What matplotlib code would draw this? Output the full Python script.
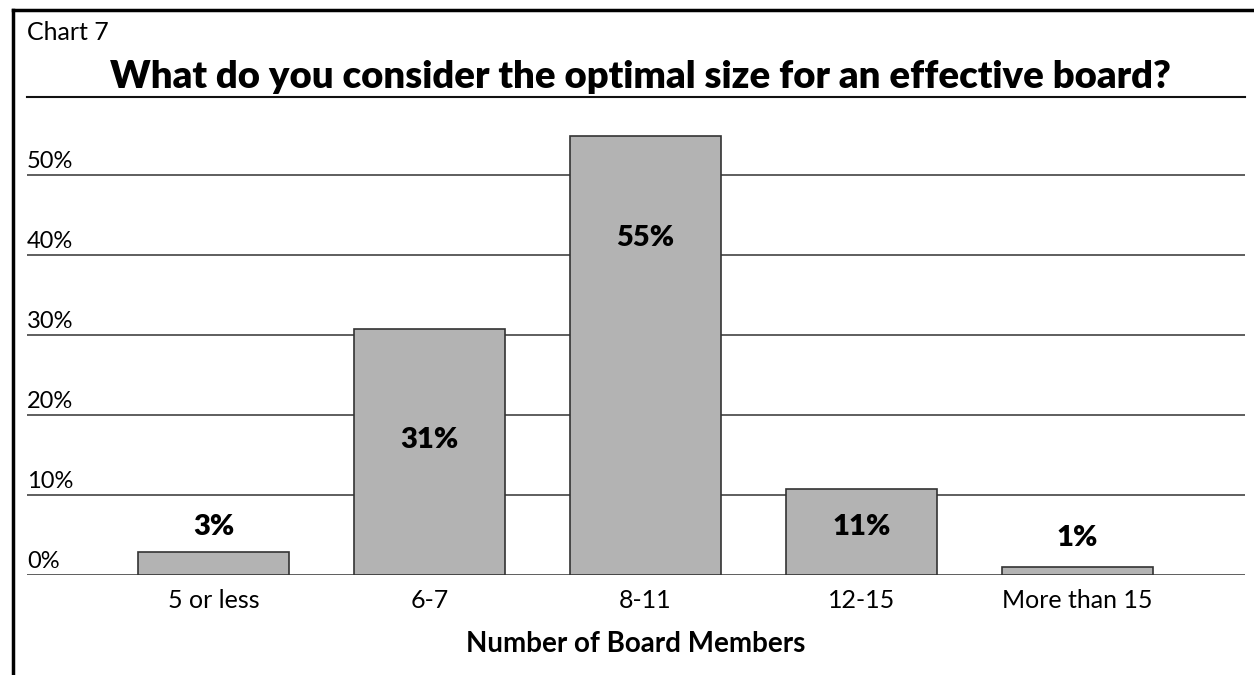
import matplotlib.pyplot as plt
from matplotlib.lines import Line2D

# data
categories = ['5 or less', '6-7', '8-11', '12-15', 'More than 15']
shares = [2.9, 30.8, 54.9, 10.8, 1.0]
share_labels = ['3%', '31%', '55%', '11%', '1%']
y_ticks = [0, 10, 20, 30, 40, 50]
y_tick_labels = ['0%', '10%', '20%', '30%', '40%', '50%']

plt.rcParams['font.family'] = ['Lato', 'DejaVu Sans']

W, H = 1254, 675
fig = plt.figure(figsize=(W / 100, H / 100), dpi=100)

# axes box in pixels: x 27..1245, y 97..575
ax = fig.add_axes([27 / W, (H - 575) / H, 1218 / W, 478 / H])
x = list(range(len(categories)))
ax.bar(x, shares, width=0.7, color='#b3b3b3', edgecolor='#333333', linewidth=1.2, zorder=3)
ax.set_xlim(-0.863, 4.776)
ax.set_ylim(0, 59.8)

for y in y_ticks:
    ax.axhline(y, color='#333333', linewidth=1.1, zorder=1)
    ax.text(0, y + 0.4, y_tick_labels[y_ticks.index(y)], transform=ax.get_yaxis_transform(),
            ha='left', va='bottom', fontsize=17)

# bar labels: above the tiny bars, inside the others
label_y = [6.0, 16.9, 42.1, 6.0, 4.6]
for i, lab in enumerate(share_labels):
    ax.text(x[i], label_y[i], lab, ha='center', va='center', fontsize=21, fontweight='heavy', zorder=4)

ax.set_xticks(x)
ax.set_xticklabels(categories, fontsize=18)
ax.tick_params(axis='x', length=0, pad=10)
ax.set_yticks([])
for side in ['left', 'right', 'bottom']:
    ax.spines[side].set_visible(False)
ax.spines['top'].set_linewidth(1.5)
ax.spines['top'].set_color('#111111')
ax.set_xlabel('Number of Board Members', fontsize=20, fontweight='bold', labelpad=14)

fig.text(27 / W, 1 - 33 / H, 'Chart 7', ha='left', va='center', fontsize=18)
fig.text(640 / W, 1 - 77 / H, 'What do you consider the optimal size for an effective board?',
         ha='center', va='center', fontsize=27.5, fontweight='heavy')

# frame: top and left only
fig.add_artist(Line2D([13 / W, 1], [1 - 10 / H, 1 - 10 / H], color='black', linewidth=2.5))
fig.add_artist(Line2D([13 / W, 13 / W], [0, 1 - 10 / H], color='black', linewidth=2.5))

fig.savefig('out.png', dpi=100)
